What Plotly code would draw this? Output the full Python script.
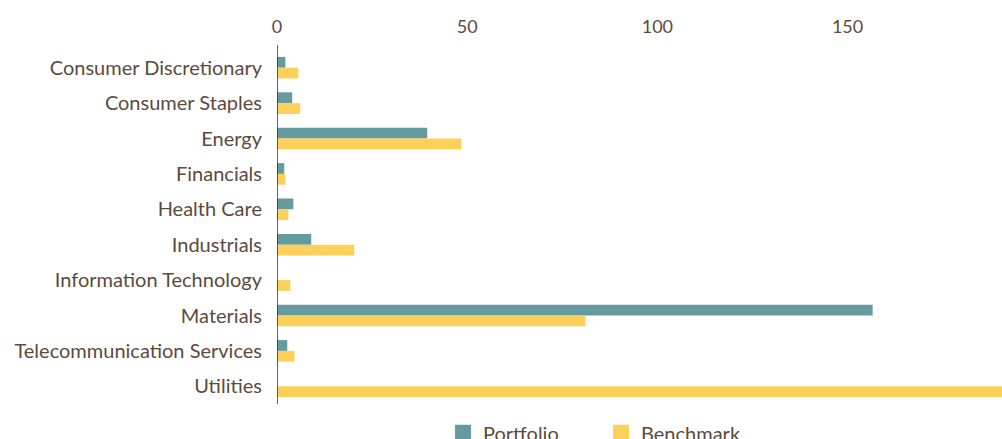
import plotly.graph_objects as go

categories = ["Consumer Discretionary", "Consumer Staples", "Energy", "Financials",
              "Health Care", "Industrials", "Information Technology", "Materials",
              "Telecommunication Services", "Utilities"]
portfolio = [2.2, 4.0, 39.5, 1.9, 4.3, 9.0, 0, 156.6, 2.7, 0]
benchmark = [5.6, 6.1, 48.5, 2.2, 3.0, 20.3, 3.5, 81.1, 4.6, 192]
x_ticks = [0, 50, 100, 150]

TEAL = "#659a9e"
YELLOW = "#fdd05c"
TEXT = "#5c4a3d"
FONT = "Lato"

fig = go.Figure()
fig.add_trace(go.Bar(y=categories, x=portfolio, orientation="h", name="Portfolio",
                     marker=dict(color=TEAL, line=dict(width=0)), showlegend=False))
fig.add_trace(go.Bar(y=categories, x=benchmark, orientation="h", name="Benchmark",
                     marker=dict(color=YELLOW, line=dict(width=0)), showlegend=False))
# legend entries with larger square swatches
fig.add_trace(go.Scatter(x=[None], y=[None], mode="markers", name="Portfolio",
                         marker=dict(symbol="square", size=16, color=TEAL)))
fig.add_trace(go.Scatter(x=[None], y=[None], mode="markers", name="Benchmark",
                         marker=dict(symbol="square", size=16, color=YELLOW)))

fig.update_layout(
    width=1002, height=439,
    margin=dict(l=277, r=0, t=50, b=35, autoexpand=False),
    paper_bgcolor="white", plot_bgcolor="white",
    barmode="group", bargap=0.39, bargroupgap=0,
    font=dict(family=FONT, size=20, color=TEXT),
    showlegend=True,
    legend=dict(orientation="h", x=0.229, xanchor="left", y=-0.026, yanchor="top",
                font=dict(family=FONT, size=20, color=TEXT),
                itemwidth=30, entrywidth=113, entrywidthmode="pixels",
                bgcolor="rgba(0,0,0,0)"),
    xaxis=dict(side="top", range=[0, 190.6], tickvals=x_ticks, ticktext=[str(v) for v in x_ticks],
               showgrid=False, zeroline=False, showline=False, ticks="",
               ticklabelstandoff=12, tickfont=dict(family=FONT, size=18, color=TEXT)),
    yaxis=dict(autorange="reversed", showgrid=False, zeroline=False, showline=False,
               ticks="", ticklabelstandoff=14, tickfont=dict(family=FONT, size=20, color=TEXT)),
    shapes=[dict(type="line", xref="x", yref="paper", x0=0, x1=0, y0=0, y1=1.014,
                 line=dict(color="#3a2a1f", width=1.5))],
)

fig.write_html(
    "out.html",
    config={"displayModeBar": False},
    post_script="document.body.style.margin='0';document.body.style.overflow='hidden';",
)
